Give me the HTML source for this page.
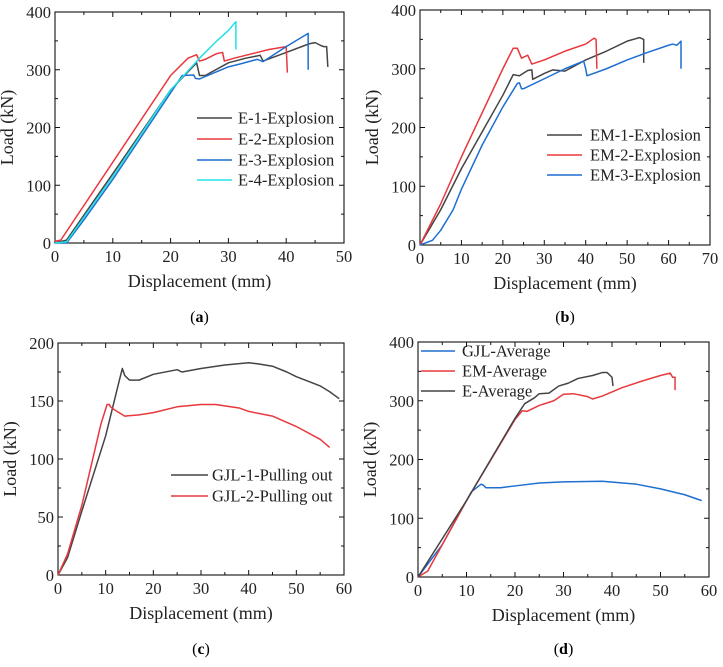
<!DOCTYPE html>
<html><head><meta charset="utf-8"><style>
body{margin:0;background:#fff;}
svg, svg text{font-family:"Liberation Serif","Times New Roman",serif;}
</style></head><body>
<svg id="fig" width="723" height="662" viewBox="0 0 723 662" font-family="Liberation Serif, serif" xmlns="http://www.w3.org/2000/svg"></svg>
<script>
// Panel (a)
const aE1x=[0,2,10,20,24.5,25,26,30,33,35.5,36,40,44,45,46,46.5,47,47.2];
const aE1y=[0,5,120,265,312,290,290,312,320,325,315,330,345,347,342,340,340,305];
const aE2x=[0,1,10,20,23,24.5,25,26,28,29,29.3,31,35,37,40,40.2];
const aE2y=[3,5,140,290,320,326,315,318,328,330,315,320,330,335,340,295];
const aE3x=[0,2,5,10,20,22,24,24.3,25,30,32,35,36,40,43.8,43.8];
const aE3y=[0,0,40,110,260,290,291,285,284,305,310,318,314,340,363,300];
const aE4x=[0,2,10,20,25,28,30,31,31.3,31.3];
const aE4y=[0,2,115,265,320,350,368,380,383,335];
// Panel (b)
const bEM1x=[0,5,10,20,22.5,24,26,27,27.2,30,32,35,40,45,50,53,54,54];
const bEM1y=[0,60,130,255,290,288,297,298,282,292,298,296,315,330,347,353,350,310];
const bEM2x=[0,5,10,20,22.5,23.5,24.5,26,27,30,35,40,42,42.5,42.7];
const bEM2y=[0,70,150,300,335,335,318,323,308,315,330,342,352,350,300];
const bEM3x=[0,3,5,8,10,15,20,23.5,24,24.5,25,30,35,39.5,40,40.3,45,50,55,60,61,62,63,63];
const bEM3y=[0,8,25,60,95,170,235,275,276,266,266,283,300,313,300,288,300,315,328,340,342,340,347,300];
// Panel (c)
const cG1x=[0,2,5,10,13,13.5,14,15,17,20,25,26,30,35,40,42,45,48,50,55,57,59];
const cG1y=[0,15,55,120,170,178,172,168,168,173,177,175,178,181,183,182,180,175,171,163,158,152];
const cG2x=[0,2,5,9,10.3,10.8,11,12,14,17,20,25,30,33,38,40,45,50,55,57];
const cG2y=[0,18,60,130,147,147,145,142,137,138,140,145,147,147,144,141,137,128,117,110];
// Panel (d)
const dGx=[0,5,10,11,13,13.5,14,17,20,25,30,38,45,50,55,58.5];
const dGy=[0,55,130,145,158,156,152,152,155,160,162,163,158,150,140,130];
const dEMx=[0,2,10,20,21.5,22.5,25,28,30,32,35,36,38,42,46,50,52,52.5,53,53];
const dEMy=[0,10,130,268,283,282,292,300,311,312,307,303,308,322,333,343,347,340,340,318];
const dEx=[0,10,20,22,24,25,27,29,31,33,36,38,39,40,40.2];
const dEy=[0,130,270,295,305,312,313,325,330,338,343,348,348,340,325];

const xTicksA=[0,10,20,30,40,50], xTicksB=[0,10,20,30,40,50,60,70], xTicksC=[0,10,20,30,40,50,60];
const yTicks400=[0,100,200,300,400], yTicks200=[0,50,100,150,200];

const NS="http://www.w3.org/2000/svg";
const svg=document.getElementById('fig');
function el(tag,attrs,parent){const e=document.createElementNS(NS,tag);for(const k in attrs)e.setAttribute(k,attrs[k]);(parent||svg).appendChild(e);return e;}
const FF='Liberation Serif, serif';

function panel(id,box,xmax,ymax,xt,yt,cap,capY){
  const g=el('g',{'font-family':FF});
  
  
  const sx=v=>box.l+(v/xmax)*(box.r-box.l);
  const sy=v=>box.b-(v/ymax)*(box.b-box.t);
  const fr=el('rect',{x:box.l,y:box.t,width:box.r-box.l,height:box.b-box.t,fill:'none',stroke:'#111','stroke-width':1.1},g);
  
  
  const xs=xt[1]-xt[0], ys=yt[1]-yt[0];
  for(let v=0;v<=xmax+1e-9;v+=xs/2){
    const major=Math.abs(v/xs-Math.round(v/xs))<1e-6, L=major?5:3, x=sx(v);
    el('line',{x1:x,y1:box.b,x2:x,y2:box.b-L,stroke:'#111'},g);
    el('line',{x1:x,y1:box.t,x2:x,y2:box.t+L,stroke:'#111'},g);
  }
  for(let v=0;v<=ymax+1e-9;v+=ys/2){
    const major=Math.abs(v/ys-Math.round(v/ys))<1e-6, L=major?5:3, y=sy(v);
    el('line',{x1:box.l,y1:y,x2:box.l+L,y2:y,stroke:'#111'},g);
    el('line',{x1:box.r,y1:y,x2:box.r-L,y2:y,stroke:'#111'},g);
  }
  xt.forEach(v=>{const t=el('text',{x:sx(v),y:box.b+19,'text-anchor':'middle','font-size':16.5,fill:'#222','font-family':FF},g);t.textContent=v;
    });
  yt.forEach(v=>{const t=el('text',{x:box.l-4,y:sy(v)+6,'text-anchor':'end','font-size':16.5,fill:'#222','font-family':FF},g);t.textContent=v;
    });
  const xtit=el('text',{x:(box.l+box.r)/2,y:box.b+44,'text-anchor':'middle','font-size':18,fill:'#222','font-family':FF},g);
  xtit.textContent='Displacement (mm)';
  
  const cy=(box.t+box.b)/2, cx=box.l-42;
  const ytit=el('text',{x:cx,y:cy,'text-anchor':'middle','font-size':18,fill:'#222','font-family':FF,transform:`rotate(-90 ${cx} ${cy})`},g);
  ytit.textContent='Load (kN)';
  
  const c=el('text',{x:(box.l+box.r)/2,y:capY,'text-anchor':'middle','font-size':16,'font-family':FF},g);
  c.innerHTML='(<tspan font-weight="bold">'+cap+'</tspan>)';
  
  return {g,sx,sy};
}
function series(p,xs,ys,color,name){
  const d=xs.map((x,i)=>(i?'L':'M')+p.sx(x).toFixed(2)+' '+p.sy(ys[i]).toFixed(2)).join(' ');
  const path=el('path',{d,fill:'none',stroke:color,'stroke-width':1.5,'stroke-linejoin':'round'},p.g);
  
  
}
function legend(p,x1,x2,tx,y,color,label){
  const l=el('line',{x1,y1:y,x2,y2:y,stroke:color,'stroke-width':1.5},p.g);
  
  const t=el('text',{x:tx,y:y+5.5,'font-size':16.5,fill:'#222','font-family':FF},p.g);t.textContent=label;
  
}
const GR='#444', RD='#e8383d', BL='#1f6fd1', CY='#22e0e6';

const pa=panel('a',{l:55,r:344,t:12,b:243},50,400,xTicksA,yTicks400,'a',322);
series(pa,aE1x,aE1y,GR,'series-e1');series(pa,aE2x,aE2y,RD,'series-e2');
series(pa,aE3x,aE3y,BL,'series-e3');series(pa,aE4x,aE4y,CY,'series-e4');
legend(pa,197,232,238,118,GR,'E-1-Explosion');legend(pa,197,232,238,139,RD,'E-2-Explosion');
legend(pa,197,232,238,160,BL,'E-3-Explosion');legend(pa,197,232,238,180,CY,'E-4-Explosion');

const pb=panel('b',{l:420,r:710,t:10,b:245},70,400,xTicksB,yTicks400,'b',322);
series(pb,bEM1x,bEM1y,GR,'series-em1');series(pb,bEM2x,bEM2y,RD,'series-em2');series(pb,bEM3x,bEM3y,BL,'series-em3');
legend(pb,547,582,590,135,GR,'EM-1-Explosion');legend(pb,547,582,590,155,RD,'EM-2-Explosion');legend(pb,547,582,590,175,BL,'EM-3-Explosion');

const pc=panel('c',{l:58,r:344,t:343,b:575},60,200,xTicksC,yTicks200,'c',654);
series(pc,cG1x,cG1y,GR,'series-gjl1');series(pc,cG2x,cG2y,RD,'series-gjl2');
legend(pc,171,208,212,475,GR,'GJL-1-Pulling out');legend(pc,171,208,212,496,RD,'GJL-2-Pulling out');

const pd=panel('d',{l:418,r:709,t:342,b:577},60,400,xTicksC,yTicks400,'d',654);
series(pd,dGx,dGy,BL,'series-gjl-average');series(pd,dEMx,dEMy,RD,'series-em-average');series(pd,dEx,dEy,GR,'series-e-average');
legend(pd,421,455,462,351,BL,'GJL-Average');legend(pd,421,455,462,371,RD,'EM-Average');legend(pd,421,455,462,391,GR,'E-Average');
</script>
</body></html>
